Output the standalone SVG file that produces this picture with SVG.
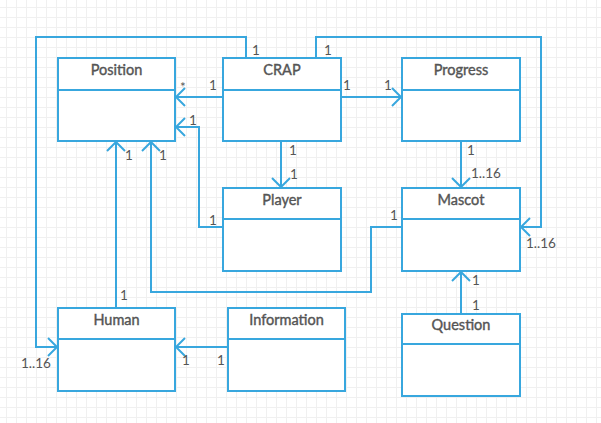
<svg xmlns="http://www.w3.org/2000/svg" width="601" height="423" viewBox="0 0 601 423">
<defs>
<pattern id="grid" x="6" y="7" width="10" height="10" patternUnits="userSpaceOnUse">
<path d="M0.5,0 V10 M0,0.5 H10" stroke="#f0f0f0" stroke-width="1" fill="none"/>
</pattern>
<marker id="arr" markerUnits="userSpaceOnUse" markerWidth="24" markerHeight="24" viewBox="-12 -12 24 24" refX="0" refY="0" orient="auto">
<path d="M-9,-9 L0,0 L-9,9" fill="none" stroke="#38a7de" stroke-width="2"/>
</marker>
<style>
.box{fill:#fff;stroke:#38a7de;stroke-width:2}
.div{stroke:#38a7de;stroke-width:2}
.title{font-family:Lato,"Liberation Sans",sans-serif;font-size:14.5px;font-weight:normal;fill:#555;stroke:#555;stroke-width:0.4;text-anchor:middle}
.conn{fill:none;stroke:#38a7de;stroke-width:2;marker-end:url(#arr)}
.lbl{font-family:Lato,"Liberation Sans",sans-serif;font-size:13.5px;fill:#555}
</style>
</defs>
<rect width="601" height="423" fill="#fff"/>
<rect width="601" height="423" fill="url(#grid)"/>

<g id="connectors">
<path class="conn" d="M223,97 H176"/>
<path class="conn" d="M223,227 H199 V127 H176"/>
<path class="conn" d="M281,141 V187"/>
<path class="conn" d="M341,97 H401"/>
<path class="conn" d="M461,141 V187"/>
<path class="conn" d="M316,58 V37 H541 V227 H521"/>
<path class="conn" d="M246,58 V37 H36 V347 H57"/>
<path class="conn" d="M116,308 V142"/>
<path class="conn" d="M402,227 H371 V292 H151 V142"/>
<path class="conn" d="M228,347 H176"/>
<path class="conn" d="M461,314 V272"/>
<g class="lbl">
<text x="180" y="92">*</text>
<text x="209" y="90">1</text>
<text x="189" y="125">1</text>
<text x="125" y="160">1</text>
<text x="159" y="160">1</text>
<text x="289" y="155">1</text>
<text x="290" y="179">1</text>
<text x="252" y="55">1</text>
<text x="324" y="55">1</text>
<text x="343" y="90">1</text>
<text x="384" y="90">1</text>
<text x="467" y="155">1</text>
<text x="471" y="178">1..16</text>
<text x="209" y="225">1</text>
<text x="120" y="300">1</text>
<text x="21" y="368">1..16</text>
<text x="182" y="365">1</text>
<text x="217" y="365">1</text>
<text x="390" y="220">1</text>
<text x="526" y="248">1..16</text>
<text x="472" y="285">1</text>
<text x="472" y="310">1</text>
</g>
</g>

<g id="Position">
<rect class="box" x="58" y="58" width="117" height="83"/>
<line class="div" x1="58" y1="90" x2="175" y2="90"/>
<text class="title" x="116.5" y="75">Position</text>
</g>
<g id="CRAP">
<rect class="box" x="223" y="58" width="118" height="83"/>
<line class="div" x1="223" y1="90" x2="341" y2="90"/>
<text class="title" x="282" y="75">CRAP</text>
</g>
<g id="Progress">
<rect class="box" x="402" y="58" width="118" height="83"/>
<line class="div" x1="402" y1="90" x2="520" y2="90"/>
<text class="title" x="461" y="75">Progress</text>
</g>
<g id="Player">
<rect class="box" x="223" y="188" width="118" height="83"/>
<line class="div" x1="223" y1="219" x2="341" y2="219"/>
<text class="title" x="282" y="205">Player</text>
</g>
<g id="Mascot">
<rect class="box" x="402" y="188" width="118" height="83"/>
<line class="div" x1="402" y1="219" x2="520" y2="219"/>
<text class="title" x="461" y="205">Mascot</text>
</g>
<g id="Human">
<rect class="box" x="58" y="308" width="117" height="83"/>
<line class="div" x1="58" y1="339" x2="175" y2="339"/>
<text class="title" x="116.5" y="325">Human</text>
</g>
<g id="Information">
<rect class="box" x="228" y="308" width="117" height="83"/>
<line class="div" x1="228" y1="339" x2="345" y2="339"/>
<text class="title" x="286.5" y="325">Information</text>
</g>
<g id="Question">
<rect class="box" x="402" y="314" width="118" height="82"/>
<line class="div" x1="402" y1="344" x2="520" y2="344"/>
<text class="title" x="461" y="330">Question</text>
</g>
</svg>
